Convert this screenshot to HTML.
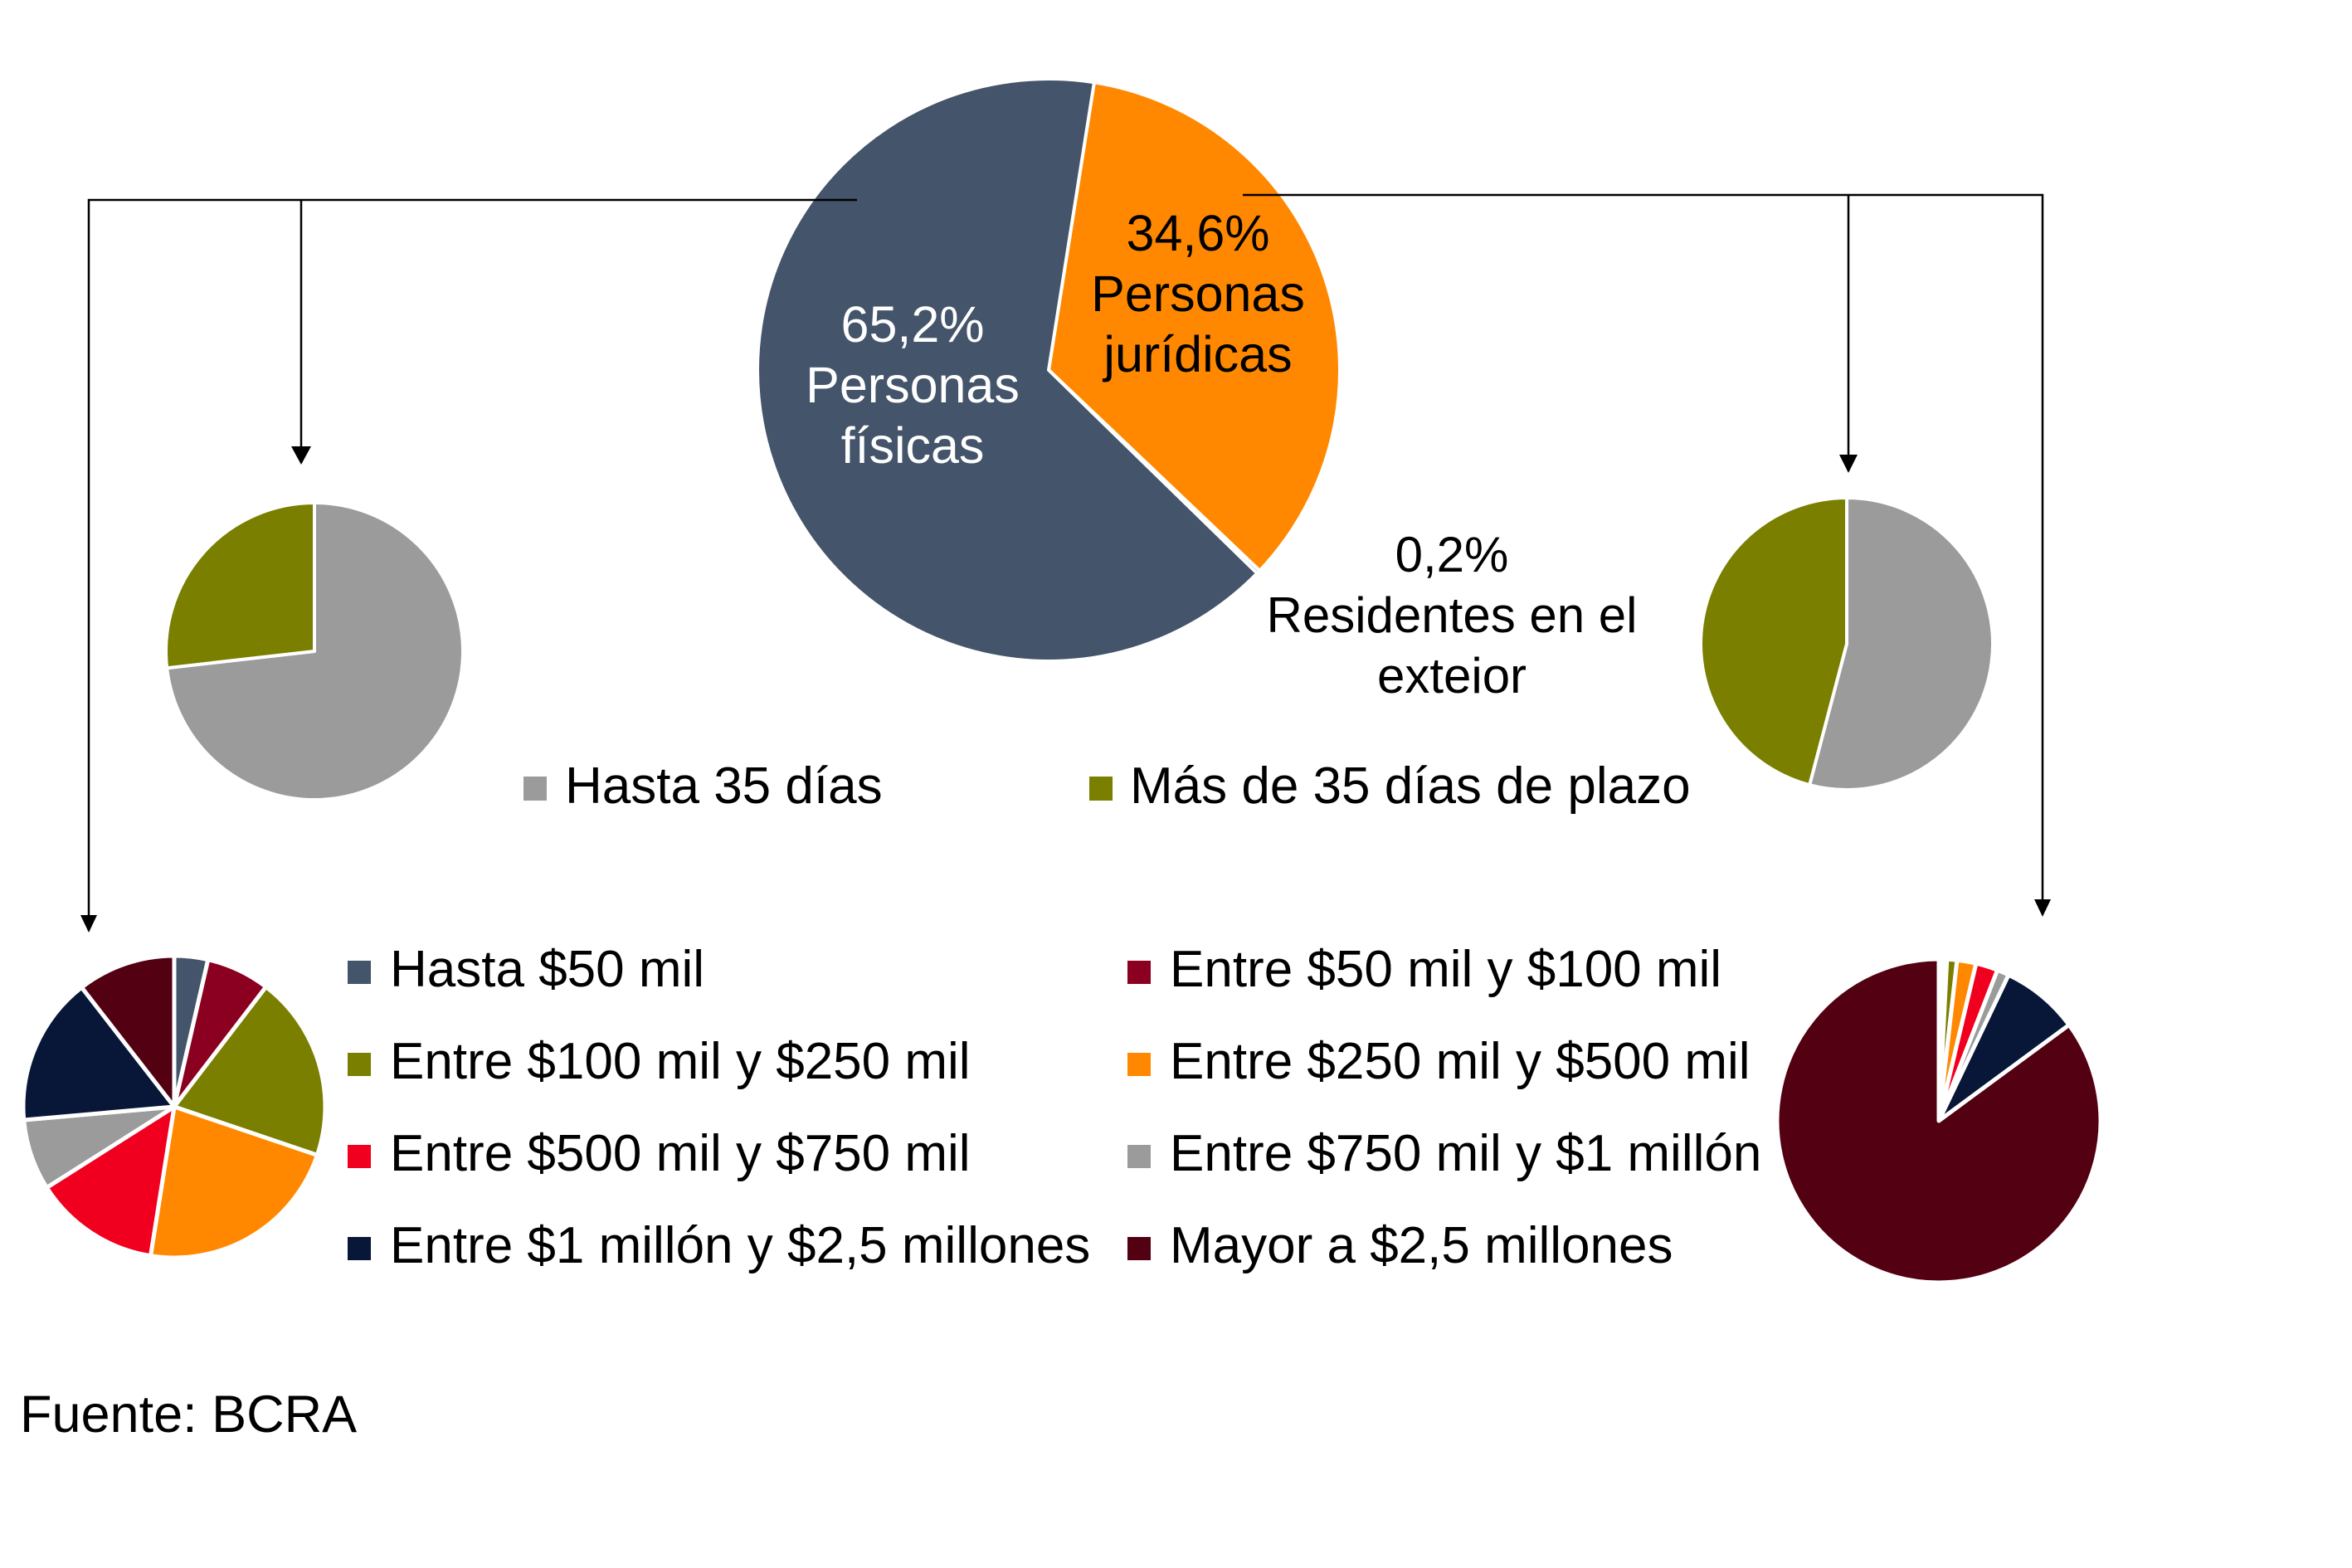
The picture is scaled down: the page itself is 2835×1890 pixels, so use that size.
<!DOCTYPE html>
<html><head><meta charset="utf-8">
<style>
html,body{margin:0;padding:0;background:#fff;}
svg{display:block;font-family:"Liberation Sans",sans-serif;}
</style></head>
<body>
<svg id="chart" width="2835" height="1890" viewBox="0 0 2835 1890" xmlns="http://www.w3.org/2000/svg">
<g id="pies"></g>
<g id="connectors" stroke="#000" stroke-width="2.5" fill="none">
  <polyline points="1033,241 107,241 107,1122"/>
  <line x1="363" y1="241" x2="363" y2="558"/>
  <path d="M351,538 L375,538 L363,560 z" fill="#000" stroke="none"/>
  <path d="M97,1103 L117,1103 L107,1124 z" fill="#000" stroke="none"/>
  <polyline points="1498,235 2462,235 2462,1102"/>
  <line x1="2228" y1="235" x2="2228" y2="568"/>
  <path d="M2217,548 L2239,548 L2228,570 z" fill="#000" stroke="none"/>
  <path d="M2452,1084 L2472,1084 L2462,1105 z" fill="#000" stroke="none"/>
</g>
<g id="texts" font-size="62" fill="#000">
  <text fill="#fff" text-anchor="middle" font-size="61"><tspan x="1100" y="412">65,2%</tspan><tspan x="1100" y="485">Personas</tspan><tspan x="1100" y="558">físicas</tspan></text>
  <text fill="#000" text-anchor="middle" font-size="61"><tspan x="1444" y="302">34,6%</tspan><tspan x="1444" y="375">Personas</tspan><tspan x="1444" y="448">jurídicas</tspan></text>
  <text fill="#000" text-anchor="middle" font-size="60"><tspan x="1750" y="689">0,2%</tspan><tspan x="1750" y="762">Residentes en el</tspan><tspan x="1750" y="835">exteior</tspan></text>

  <rect x="631" y="936" width="28" height="29" fill="#9B9B9B"/>
  <text x="681" y="968">Hasta 35 días</text>
  <rect x="1313" y="936" width="28" height="29" fill="#7A7F00"/>
  <text x="1362" y="968">Más de 35 días de plazo</text>
</g>
<g id="legend2" font-size="62"></g>
<text x="24" y="1726" font-size="63">Fuente:  BCRA</text>
</svg>
<script>
// Main pie: holder type
const mainCats = ["Personas jurídicas", "Residentes en el exterior", "Personas físicas"];
const mainVals = [34.6, 0.2, 65.2];
// Term pies
const termCats = ["Hasta 35 días", "Más de 35 días de plazo"];
const termFisicas = [73.2, 26.8];
const termJuridicas = [54.1, 45.9];
// Amount pies
const amountCats = ["Hasta $50 mil", "Entre $50 mil y $100 mil", "Entre $100 mil y $250 mil", "Entre $250 mil y $500 mil", "Entre $500 mil y $750 mil", "Entre $750 mil y $1 millón", "Entre $1 millón y $2,5 millones", "Mayor a $2,5 millones"];
const amountFisicas = [3.6, 6.8, 19.8, 22.3, 13.5, 7.6, 15.9, 10.5];
const amountJuridicas = [0.4, 0.4, 1.0, 1.9, 2.2, 1.2, 7.8, 85.1];

const mainColors = ["#FF8800", "#44546A", "#44546A"];
const termColors = ["#9B9B9B", "#7A7F00"];
const amountColors = ["#44546A", "#8B0020", "#7A7F00", "#FF8800", "#F0001E", "#9B9B9B", "#081638", "#520012"];

const NS = "http://www.w3.org/2000/svg";
const pies = document.getElementById("pies");

function drawPie(name, cats, vals, colors, cx, cy, r, startDeg, sw) {
  const g = document.createElementNS(NS, "g");
  
  
  pies.appendChild(g);
  const total = vals.reduce((a, b) => a + b, 0);
  let a0 = startDeg;
  vals.forEach((v, i) => {
    const a1 = a0 + v / total * 360;
    const r0 = (a0 - 90) * Math.PI / 180, r1 = (a1 - 90) * Math.PI / 180;
    const x0 = cx + r * Math.cos(r0), y0 = cy + r * Math.sin(r0);
    const x1 = cx + r * Math.cos(r1), y1 = cy + r * Math.sin(r1);
    const large = (a1 - a0) > 180 ? 1 : 0;
    const p = document.createElementNS(NS, "path");
    p.setAttribute("d", `M${cx},${cy} L${x0},${y0} A${r},${r} 0 ${large} 1 ${x1},${y1} Z`);
    p.setAttribute("fill", colors[i]);
    p.setAttribute("stroke", "#fff");
    p.setAttribute("stroke-width", sw);
    p.setAttribute("stroke-linejoin", "round");
    
    
    g.appendChild(p);
    a0 = a1;
  });
}

drawPie("main-pie", mainCats, mainVals, mainColors, 1264, 446, 351, 9, 4);
drawPie("term-pie-fisicas", termCats, termFisicas, termColors, 379, 785, 179, 0, 4);
drawPie("term-pie-juridicas", termCats, termJuridicas, termColors, 2226, 776, 176, 0, 4);
drawPie("amount-pie-fisicas", amountCats, amountFisicas, amountColors, 210, 1334, 182, 0, 5);
drawPie("amount-pie-juridicas", amountCats, amountJuridicas, amountColors, 2337, 1351, 195, 0, 5);

// bottom legend
const lg = document.getElementById("legend2");
const rowsY = [1189, 1300, 1411, 1522];
amountCats.forEach((c, i) => {
  const col = i % 2, row = Math.floor(i / 2);
  const sx = col === 0 ? 419 : 1359, tx = col === 0 ? 470 : 1410;
  const y = rowsY[row];
  const s = document.createElementNS(NS, "rect");
  s.setAttribute("x", sx); s.setAttribute("y", y - 31);
  s.setAttribute("width", 28); s.setAttribute("height", 28);
  s.setAttribute("fill", amountColors[i]);
  
  
  lg.appendChild(s);
  const t = document.createElementNS(NS, "text");
  t.setAttribute("x", tx); t.setAttribute("y", y);
  t.textContent = c;
  
  
  lg.appendChild(t);
});
</script>
</body></html>
